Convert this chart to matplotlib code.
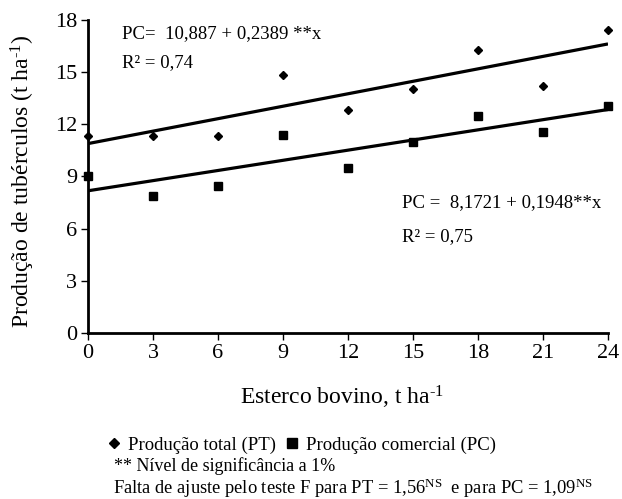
import numpy as np
import matplotlib
matplotlib.use('Agg')
import matplotlib.pyplot as plt
from matplotlib.lines import Line2D

plt.rcParams['font.family'] = ['Liberation Serif', 'DejaVu Sans']
plt.rcParams['mathtext.fontset'] = 'custom'
plt.rcParams['mathtext.rm'] = 'Liberation Serif'
plt.rcParams['mathtext.it'] = 'Liberation Serif:italic'

# doses of cattle manure
dose = [0, 3, 6, 9, 12, 15, 18, 21, 24]

# total production (PT) and commercial production (PC), t/ha
pt = [11.3, 11.3, 11.3, 14.85, 12.8, 14.0, 16.3, 14.2, 17.45]
pc = [9.05, 7.85, 8.45, 11.4, 9.5, 11.0, 12.45, 11.55, 13.05]

# regression coefficients
pt_a, pt_b = 10.887, 0.2389
pc_a, pc_b = 8.1721, 0.1948

xticks = [0, 3, 6, 9, 12, 15, 18, 21, 24]
yticks = [0, 3, 6, 9, 12, 15, 18]

fig = plt.figure(figsize=(6.22, 4.99), dpi=100)
ax = fig.add_axes([0.1415, 0.333, 0.836, 0.627])

xs = np.array([dose[0], dose[-1]])
ax.plot(xs, pt_a + pt_b*xs, color='k', linewidth=2.3, solid_capstyle='butt')
ax.plot(xs, pc_a + pc_b*xs, color='k', linewidth=2.3, solid_capstyle='butt')
ax.plot(dose, pt, linestyle='none', marker='D', markersize=4.5, color='k', clip_on=False, zorder=5)
ax.plot(dose, pc, linestyle='none', marker='s', markersize=5.5, color='k', clip_on=False, zorder=5)

ax.set_xlim(0, 24)
ax.set_ylim(0, 18)
ax.set_xticks(xticks)
ax.set_yticks(yticks)
ax.tick_params(labelsize=16, width=1, length=5, direction='out', pad=3)
for s in ['top', 'right']:
    ax.spines[s].set_visible(False)
for s in ['left', 'bottom']:
    ax.spines[s].set_linewidth(2)

ax.set_xlabel('Esterco bovino, t ha$^{\\text{-1}}$', fontsize=17)
ax.set_ylabel('Produção de tubérculos (t ha$^{\\text{-1}}$)', fontsize=17)
ax.xaxis.set_label_coords(0.488, -0.163)
ax.yaxis.set_label_coords(-0.098, 0.486)

ax.text(0.065, 0.958, 'PC=  10,887 + 0,2389 **x', transform=ax.transAxes, fontsize=13.5, va='center')
ax.text(0.065, 0.863, 'R² = 0,74', transform=ax.transAxes, fontsize=13.5, va='center')
ax.text(0.604, 0.415, 'PC =  8,1721 + 0,1948**x', transform=ax.transAxes, fontsize=13.5, va='center')
ax.text(0.604, 0.307, 'R² = 0,75', transform=ax.transAxes, fontsize=13.5, va='center')

handles = [Line2D([], [], linestyle='none', marker='D', markersize=5, color='k'),
           Line2D([], [], linestyle='none', marker='s', markersize=7, color='k')]
fig.legend(handles, ['Produção total (PT)', 'Produção comercial (PC)'], ncol=2,
           loc='center left', bbox_to_anchor=(0.175, 0.108), frameon=False,
           prop={'family': 'Liberation Serif', 'size': 13.5},
           handlelength=0.6, handletextpad=0.4, columnspacing=0.6, borderpad=0, borderaxespad=0)
fig.text(0.184, 0.066, '** Nível de significância a 1%', fontsize=13, va='center')
fig.text(0.182, 0.022, 'Falta de ajuste pelo teste F para PT = 1,56$^{\\mathregular{NS}}$  e para PC = 1,09$^{\\mathregular{NS}}$',
         fontsize=13.3, va='center')

fig.savefig('out.png', dpi=100)
